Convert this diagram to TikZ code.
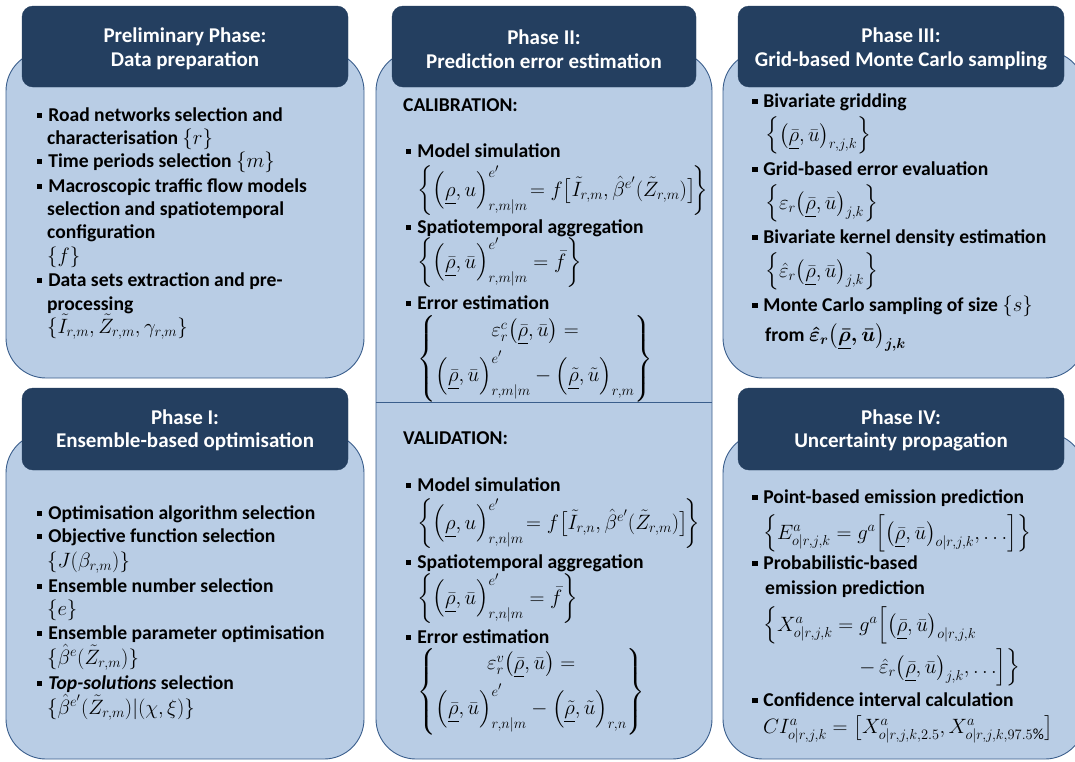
\documentclass[tikz,border=0pt]{standalone}
\usepackage{fontspec}
\setmainfont{Carlito}
\usepackage{amsmath}
\DeclareMathSizes{21.5}{21.5}{15.5}{11.5}
\DeclareMathSizes{19.6}{20.5}{15}{11}
\definecolor{bodyfill}{HTML}{B9CDE5}
\definecolor{bodyline}{HTML}{3A5E8C}
\definecolor{headfill}{HTML}{243F60}
\newcommand\bul{\rule[0.14em]{0.27em}{0.27em}\hspace{0.3em}}
\newcommand\rhob{\underline{\bar\rho}}
\newcommand\ubr{\bar u}
\newcommand\pr[1]{\bigl(#1\bigr)}
\newcommand\bpr[1]{\Bigl(#1\Bigr)}
\tikzset{
  body/.style={draw=bodyline, fill=bodyfill, line width=0.9pt, rounded corners=40pt, inner sep=0pt},
  head/.style={fill=headfill, draw=headfill, rounded corners=11pt, inner sep=0pt},
  htxt/.style={inner sep=0pt, text=white, align=center, font=\fontsize{21}{23.5}\selectfont\bfseries},
  itm/.style={anchor=base west, inner sep=0pt, font=\fontsize{19.6}{22}\selectfont\bfseries},
  eqn/.style={anchor=base west, inner sep=0pt, font=\fontsize{21.5}{22}\selectfont},
  eqw/.style={anchor=west, inner sep=0pt, font=\fontsize{21.5}{22}\selectfont},
}
\begin{document}
\begin{tikzpicture}[x=1pt,y=-1pt]
\useasboundingbox (0,0) rectangle (1075,761);
\clip (0,0) rectangle (1075,761);
% bodies
\node[body, minimum width=358pt, minimum height=327pt] (b0) at (185,214.5) {};
\node[body, minimum width=358pt, minimum height=326pt] (b1) at (185,596) {};
\node[body, minimum width=336pt, minimum height=708pt] (b2) at (544,405) {};
\node[body, minimum width=362pt, minimum height=327pt] (b3) at (904,214.5) {};
\node[body, minimum width=362pt, minimum height=326pt] (b4) at (904,596) {};
\draw[bodyline, line width=0.9pt] (b2.west |- 0,402) -- (b2.east |- 0,402);
% headers
\node[head, minimum width=326pt, minimum height=81pt] (h0) at (185,46.5) {};
\node[head, minimum width=304pt, minimum height=81pt] (h1) at (544,46.5) {};
\node[head, minimum width=326pt, minimum height=81pt] (h2) at (901,46.5) {};
\node[head, minimum width=326pt, minimum height=82pt] (h3) at (185,429) {};
\node[head, minimum width=326pt, minimum height=82pt] (h4) at (901,429) {};
\node[htxt] (h0t) at (185,49) {Preliminary Phase:\\Data preparation};
\node[htxt] (h1t) at (544,49) {Phase II:\\Prediction error estimation};
\node[htxt] (h2t) at (901,49) {Phase III:\\Grid-based Monte Carlo sampling};
\node[htxt] (h3t) at (185,430.5) {Phase I:\\Ensemble-based optimisation};
\node[htxt] (h4t) at (901,430.5) {Phase IV:\\Uncertainty propagation};
% preliminary
\node[itm] (p1) at (37,121) {\bul Road networks selection and};
\node[itm] (p2) at (47,144) {characterisation $\{r\}$};
\node[itm] (p3) at (37,167) {\bul Time periods selection $\{m\}$};
\node[itm] (p4) at (37,192) {\bul Macroscopic traffic flow models};
\node[itm] (p5) at (47,215) {selection and spatiotemporal};
\node[itm] (p6) at (47,238) {configuration};
\node[eqn] (p7) at (47,262) {$\{f\}$};
\node[itm] (p8) at (37,286) {\bul Data sets extraction and pre-};
\node[itm] (p9) at (47,310) {processing};
\node[eqn] (p10) at (47,333) {$\{\tilde I_{r,m},\tilde Z_{r,m},\gamma_{r,m}\}$};
% phase I
\node[itm] (q1) at (37,519) {\bul Optimisation algorithm selection};
\node[itm] (q2) at (37,542) {\bul Objective function selection};
\node[eqn] (q3) at (47,567) {$\{J(\beta_{r,m})\}$};
\node[itm] (q4) at (37,592) {\bul Ensemble number selection};
\node[eqn] (q5) at (47,615) {$\{e\}$};
\node[itm] (q6) at (37,639) {\bul Ensemble parameter optimisation};
\node[eqn] (q7) at (47,664) {$\{\hat\beta^{e}(\tilde Z_{r,m})\}$};
\node[itm] (q8) at (37,689) {\bul \textit{Top-solutions} selection};
\node[eqn] (q9) at (47,714) {$\{\hat\beta^{e'}(\tilde Z_{r,m})|(\chi,\xi)\}$};
% phase II calibration
\node[itm] (m0) at (403,111) {CALIBRATION:};
\node[itm] (m1) at (406,157) {\bul Model simulation};
\node[eqn] (m2) at (417,196) {$\left\{\bpr{\underline{\rho},u}^{e'}_{r,m|m}\!=f\bigl[\tilde I_{r,m},\hat\beta^{e'}(\tilde Z_{r,m})\bigr]\!\right\}$};
\node[itm] (m3) at (406,233) {\bul Spatiotemporal aggregation};
\node[eqn] (m4) at (417,268) {$\left\{\bpr{\rhob,\ubr}^{e'}_{r,m|m}=\bar f\right\}$};
\node[itm] (m5) at (406,309) {\bul Error estimation};
\node[eqw] (m6) at (417,359) {$\left\{\begin{matrix}\varepsilon_r^c\pr{\rhob,\ubr}=\\[8pt] \bpr{\rhob,\ubr}^{e'}_{r,m|m}-\bpr{\underline{\tilde\rho},\tilde u}_{r,m}\end{matrix}\right\}$};
% phase II validation
\node[itm] (v0) at (403,444) {VALIDATION:};
\node[itm] (v1) at (406,491) {\bul Model simulation};
\node[eqn] (v2) at (417,529) {$\left\{\bpr{\underline{\rho},u}^{e'}_{r,n|m}\!=f\bigl[\tilde I_{r,n},\hat\beta^{e'}(\tilde Z_{r,m})\bigr]\!\right\}$};
\node[itm] (v3) at (406,568) {\bul Spatiotemporal aggregation};
\node[eqn] (v4) at (417,604) {$\left\{\bpr{\rhob,\ubr}^{e'}_{r,n|m}=\bar f\right\}$};
\node[itm] (v5) at (406,643) {\bul Error estimation};
\node[eqw] (v6) at (417,692) {$\left\{\begin{matrix}\varepsilon_r^v\pr{\rhob,\ubr}=\\[8pt] \bpr{\rhob,\ubr}^{e'}_{r,n|m}-\bpr{\underline{\tilde\rho},\tilde u}_{r,n}\end{matrix}\right\}$};
% phase III
\node[itm] (r1) at (752,107) {\bul Bivariate gridding};
\node[eqn] (r2) at (765,141) {$\left\{\pr{\rhob,\ubr}_{r,j,k}\right\}$};
\node[itm] (r3) at (752,175) {\bul Grid-based error evaluation};
\node[eqn] (r4) at (765,209) {$\left\{\varepsilon_r\pr{\rhob,\ubr}_{j,k}\right\}$};
\node[itm] (r5) at (752,243) {\bul Bivariate kernel density estimation};
\node[eqn] (r6) at (765,277) {$\left\{\hat\varepsilon_r\pr{\rhob,\ubr}_{j,k}\right\}$};
\node[itm] (r7) at (752,311) {\bul Monte Carlo sampling of size $\{s\}$};
\node[itm] (r8) at (765,341) {from {\fontsize{21.5}{22}\selectfont\boldmath$\hat\varepsilon_r\pr{\rhob,\ubr}_{j,k}$}};
% phase IV
\node[itm] (s1) at (752,503) {\bul Point-based emission prediction};
\node[eqn] (s2) at (763,539) {$\left\{E^a_{o|r,j,k}=g^a\Bigl[\pr{\rhob,\ubr}_{o|r,j,k},\ldots\Bigr]\right\}$};
\node[itm] (s3) at (752,569) {\bul Probabilistic-based};
\node[itm] (s4) at (765,594) {emission prediction};
\node[eqn] (s5) at (763,631) {$\left\{X^a_{o|r,j,k}=g^a\Bigl[\pr{\rhob,\ubr}_{o|r,j,k}\right.$};
\node[eqn] (s6) at (858,673) {$\left.-\,\hat\varepsilon_r\pr{\rhob,\ubr}_{j,k},\ldots\Bigr]\right\}$};
\node[itm] (s7) at (752,706) {\bul Confidence interval calculation};
\node[eqn] (s8) at (763,733) {$CI^a_{o|r,j,k}=\bigl[X^a_{o|r,j,k,2.5},X^a_{o|r,j,k,97.5\%}\bigr]$};
\end{tikzpicture}
\end{document}
